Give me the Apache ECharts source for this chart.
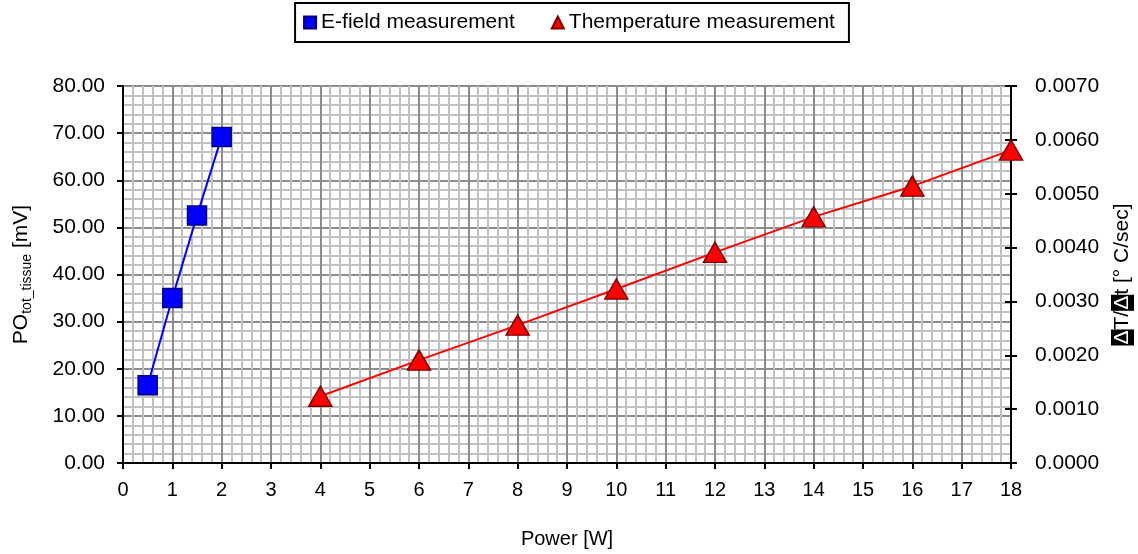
<!DOCTYPE html>
<html>
<head>
<meta charset="utf-8">
<script src="https://cdn.jsdelivr.net/npm/echarts@6/dist/echarts.min.js"></script>
<style>
  html, body { margin: 0; padding: 0; background: #fff; }
  #chart { width: 1138px; height: 554px; }
</style>
</head>
<body>
<div id="chart"></div>
<script>
  // E-field series (left axis)
  var powerE = [0.5, 1, 1.5, 2];
  var efield = [16.5, 35.0, 52.5, 69.2];
  // temperature series (right axis)
  var powerT = [4, 6, 8, 10, 12, 14, 16, 18];
  var tempRate = [0.00124, 0.00191, 0.00256, 0.00323, 0.00391, 0.00457, 0.00514, 0.00581];

  var font = '"Liberation Sans", Arial, sans-serif';

  var chart = echarts.init(document.getElementById('chart'));
  chart.setOption({
    animation: false,
    textStyle: { fontFamily: font, color: '#000' },
    legend: {
      top: 3,
      left: 'center',
      borderColor: '#000',
      borderWidth: 2,
      borderRadius: 0,
      padding: [9, 14, 9, 8],
      itemGap: 36,
      itemWidth: 12,
      itemHeight: 12,
      textStyle: { fontSize: 21, fontFamily: font, color: '#000' },
      data: [
        { name: 'E-field measurement', icon: 'rect' },
        { name: 'Themperature measurement', icon: 'triangle', itemWidth: 15, itemHeight: 14 }
      ]
    },
    grid: { left: 123, right: 127, top: 86, bottom: 91, outerBoundsMode: 'none', containLabel: false },
    xAxis: {
      type: 'value',
      min: 0, max: 18, interval: 1,
      name: 'Power [W]',
      nameLocation: 'middle',
      nameGap: 66,
      nameTextStyle: { fontSize: 20, color: '#000' },
      axisLine: { lineStyle: { color: '#000', width: 2 } },
      axisTick: { lineStyle: { color: '#000', width: 2 }, length: 6 },
      axisLabel: { fontSize: 20, color: '#000', margin: 17 },
      splitLine: { show: true, lineStyle: { color: '#8c8c8c', width: 2 } },
      minorTick: { show: false, splitNumber: 5 },
      minorSplitLine: { show: true, lineStyle: { color: '#c0c0c0', width: 2 } }
    },
    yAxis: [{
      type: 'value',
      min: 0, max: 80, interval: 10,
      position: 'left',
      name: '{a|PO}{s|tot_tissue}{a| [mV]}',
      nameLocation: 'middle',
      nameGap: 89,
      nameTextStyle: {
        rich: {
          a: { fontSize: 21, color: '#000', fontFamily: font, lineHeight: 26 },
          s: { fontSize: 14, color: '#000', fontFamily: font, verticalAlign: 'bottom', lineHeight: 26, padding: [10, 0, 0, 0] }
        }
      },
      axisLine: { show: true, lineStyle: { color: '#000', width: 2 } },
      axisTick: { show: true, lineStyle: { color: '#000', width: 2 }, length: 6 },
      axisLabel: { fontSize: 21, color: '#000', margin: 18, formatter: function (v) { return v.toFixed(2); } },
      splitLine: { show: true, lineStyle: { color: '#8c8c8c', width: 2 } },
      minorTick: { show: false, splitNumber: 5 },
      minorSplitLine: { show: true, lineStyle: { color: '#c0c0c0', width: 2 } }
    }, {
      type: 'value',
      min: 0, max: 0.007, interval: 0.001,
      position: 'right',
      name: '{d|Δ}T/{d|Δ}t [° C/sec]',
      nameLocation: 'middle',
      nameGap: 100,
      nameRotate: 90,
      nameTextStyle: {
        fontSize: 21, color: '#000',
        rich: {
          d: { fontSize: 21, color: '#fff', backgroundColor: '#000', fontFamily: font, padding: [1, 1, 1, 1] }
        }
      },
      axisLine: { show: true, lineStyle: { color: '#000', width: 2 } },
      axisTick: { show: true, lineStyle: { color: '#000', width: 2 }, length: 6 },
      axisLabel: { fontSize: 21, color: '#000', margin: 24, formatter: function (v) { return v.toFixed(4); } },
      splitLine: { show: false }
    }, {
      // inner half of the crossing ticks on the right axis
      type: 'value',
      min: 0, max: 0.007, interval: 0.001,
      position: 'right',
      axisLine: { show: false },
      axisTick: { show: true, inside: true, lineStyle: { color: '#000', width: 2 }, length: 6 },
      axisLabel: { show: false },
      splitLine: { show: false }
    }],
    series: [{
      name: 'E-field measurement',
      type: 'line',
      yAxisIndex: 0,
      data: powerE.map(function (x, i) { return [x, efield[i]]; }),
      symbol: 'rect',
      symbolSize: 19,
      lineStyle: { color: '#0000ff', width: 2 },
      itemStyle: { color: '#0000ff', borderColor: '#000080', borderWidth: 1.5, opacity: 1 },
      z: 3
    }, {
      name: 'Themperature measurement',
      type: 'line',
      yAxisIndex: 1,
      data: powerT.map(function (x, i) { return [x, tempRate[i]]; }),
      symbol: 'triangle',
      symbolSize: [23, 20],
      lineStyle: { color: '#ff0000', width: 2 },
      itemStyle: { color: '#ff0000', borderColor: '#800000', borderWidth: 1.5, opacity: 1 },
      z: 3
    }]
  });
</script>
</body>
</html>
